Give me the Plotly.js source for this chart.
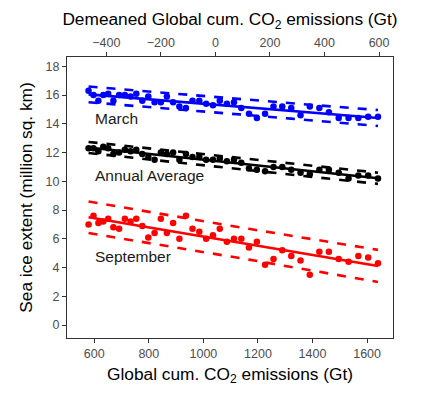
<!DOCTYPE html>
<html>
<head>
<meta charset="utf-8">
<script src="https://cdn.plot.ly/plotly-3.0.1.min.js"></script>
<style>
  html, body { margin: 0; padding: 0; background: #fff; }
  #plot { width: 429px; height: 393px; }
</style>
</head>
<body>
<div id="plot"></div>
<script>
// cumulative global CO2 emissions (Gt), one per year
var cumCO2 = [579, 597, 615, 633, 651, 670, 691, 712, 733, 754,
              776, 798, 821, 844, 866, 889, 912, 936, 960, 985,
              1010, 1035, 1060, 1086, 1112, 1139, 1167, 1196, 1226, 1257,
              1289, 1322, 1356, 1390, 1425, 1460, 1496, 1532, 1568, 1604, 1640];

var march = [16.3, 16.0, 15.6, 16.0, 16.1, 15.6, 16.0, 16.0, 15.9, 16.1,
             15.6, 15.9, 15.5, 15.5, 15.9, 15.5, 15.2, 15.1, 15.6, 15.6,
             15.4, 15.3, 15.6, 15.4, 15.5, 15.1, 14.7, 14.4, 14.7, 15.2,
             15.2, 15.1, 14.6, 15.2, 15.1, 14.8, 14.4, 14.4, 14.4, 14.5, 14.5];

var annual = [12.3, 12.3, 12.1, 12.4, 12.3, 11.9, 12.0, 12.2, 12.1, 12.2,
              11.9, 11.7, 11.5, 12.0, 11.9, 12.0, 11.5, 11.9, 11.7, 11.7,
              11.5, 11.5, 11.6, 11.4, 11.5, 11.3, 10.9, 10.8, 10.7, 11.0,
              11.0, 10.8, 10.6, 10.5, 10.8, 10.8, 10.6, 10.2, 10.4, 10.4, 10.2];

var september = [7.0, 7.6, 7.1, 7.2, 7.4, 6.8, 6.7, 7.4, 7.2, 7.4,
                 6.9, 6.1, 6.4, 7.4, 6.4, 7.1, 6.0, 7.6, 6.7, 6.5,
                 6.0, 6.25, 6.7, 5.8, 6.0, 6.0, 5.4, 5.8, 4.2, 4.6,
                 5.2, 4.8, 4.5, 3.5, 5.1, 5.1, 4.6, 4.4, 4.8, 4.7, 4.3];

var seriesNames = ['March', 'Annual Average', 'September'];
var seriesColors = ['#0000FF', '#000000', '#FF0000'];
var labelY = [14.4, 10.4, 4.8];
var meanShift = 1044;   // top axis is the bottom axis demeaned

// least squares fit with 95% prediction interval
function fitLine(x, y) {
  var n = x.length, mx = 0, my = 0;
  for (var i = 0; i < n; i++) { mx += x[i]; my += y[i]; }
  mx /= n; my /= n;
  var sxx = 0, sxy = 0;
  for (i = 0; i < n; i++) { sxx += (x[i]-mx)*(x[i]-mx); sxy += (x[i]-mx)*(y[i]-my); }
  var b = sxy / sxx, a = my - b*mx;
  var sse = 0;
  for (i = 0; i < n; i++) { var r = y[i] - (a + b*x[i]); sse += r*r; }
  var s = Math.sqrt(sse / (n - 2)), t = 2.023;
  var fit = [], lo = [], hi = [];
  for (i = 0; i < n; i++) {
    var f = a + b*x[i];
    var h = t * s * Math.sqrt(1 + 1/n + (x[i]-mx)*(x[i]-mx)/sxx);
    fit.push(f); lo.push(f - h); hi.push(f + h);
  }
  return {fit: fit, lo: lo, hi: hi};
}

var data = [];
var annotations = [];
[march, annual, september].forEach(function(y, k) {
  var c = seriesColors[k];
  var m = fitLine(cumCO2, y);
  data.push({x: cumCO2, y: m.hi, mode: 'lines', line: {color: c, width: 2.6, dash: 'dash'}, hoverinfo: 'skip'});
  data.push({x: cumCO2, y: m.lo, mode: 'lines', line: {color: c, width: 2.6, dash: 'dash'}, hoverinfo: 'skip'});
  data.push({x: cumCO2, y: m.fit, mode: 'lines', line: {color: c, width: 2.6}});
  data.push({x: cumCO2, y: y, mode: 'markers', marker: {color: c, size: 6.5}});
  annotations.push({x: 597, y: labelY[k], xref: 'x', yref: 'y', text: seriesNames[k],
    showarrow: false, xanchor: 'left', font: {size: 15.5, color: '#1a1a1a'}});
});

// invisible trace so the demeaned top axis gets drawn
data.push({x: cumCO2.map(function(v) { return v - meanShift; }), y: march,
  xaxis: 'x2', mode: 'markers', marker: {opacity: 0}, hoverinfo: 'skip'});

var axisCommon = {
  showgrid: false, zeroline: false,
  showline: true, linecolor: '#333333', linewidth: 1,
  ticks: 'outside', ticklen: 4, tickcolor: '#333333',
  tickfont: {size: 12.5, color: '#4D4D4D'}
};

var layout = {
  width: 429, height: 393,
  margin: {l: 67, r: 36, t: 57, b: 55},
  paper_bgcolor: '#fff', plot_bgcolor: '#fff',
  showlegend: false,
  font: {family: 'Liberation Sans, Arial, sans-serif', color: '#000'},
  xaxis: Object.assign({}, axisCommon, {
    range: [500, 1695], tickvals: [600, 800, 1000, 1200, 1400, 1600],
    mirror: false,
    title: {text: 'Global cum. CO<sub>2</sub> emissions (Gt)', font: {size: 17.3}, standoff: 7}
  }),
  xaxis2: Object.assign({}, axisCommon, {
    overlaying: 'x', side: 'top',
    range: [500 - meanShift, 1695 - meanShift], tickvals: [-400, -200, 0, 200, 400, 600],
    title: {text: 'Demeaned Global cum. CO<sub>2</sub> emissions (Gt)', font: {size: 17.3}, standoff: 5}
  }),
  yaxis: Object.assign({}, axisCommon, {
    range: [-0.9, 18.65], tickvals: [0, 2, 4, 6, 8, 10, 12, 14, 16, 18],
    mirror: true,
    title: {text: 'Sea ice extent (million sq. km)', font: {size: 17.3}, standoff: 8}
  }),
  annotations: annotations
};

Plotly.newPlot('plot', data, layout, {displayModeBar: false, staticPlot: true});
</script>
</body>
</html>
